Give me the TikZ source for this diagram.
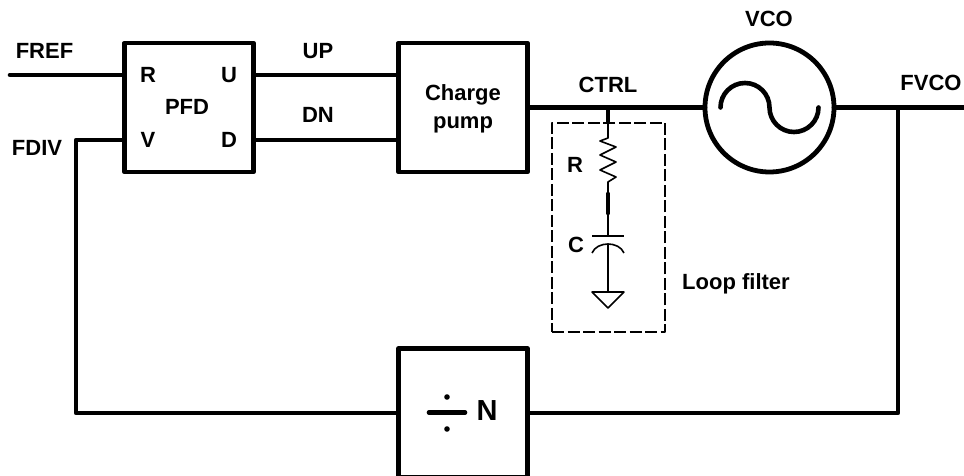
\documentclass[tikz,border=0pt]{standalone}
\usepackage{fontspec}
\setmainfont{Liberation Sans}
\usetikzlibrary{positioning}
\def\sz{129pt}
\tikzstyle{block}=[draw,rectangle,line width=4.8pt,outer sep=0pt,inner sep=0pt,minimum size=\sz]
\tikzstyle{vcostate}=[draw,circle,line width=4.8pt,outer sep=0pt,minimum size=129pt]
\tikzstyle{lab}=[inner sep=0pt,align=center,font=\fontsize{22}{28}\selectfont\bfseries]
\tikzstyle{wire}=[line width=4.6pt,line cap=round,line join=round]
\tikzstyle{thinwire}=[line width=1.6pt,line join=round]
\newcommand{\newLabel}[3]{\node[lab](#1) at (#2){#3};}
\newcommand{\newWire}[3][]{\draw[wire,#1] (#2) -- (#3);}

\begin{document}
\begin{tikzpicture}[x=1pt,y=1pt,on grid,line join=round]
    \useasboundingbox (0,0) rectangle (964,476);
    \node[block](pfd) at (189,368.5){};
    \node[block](pump)[right=274pt of pfd]{};
    \node[vcostate](vco)[right=306.5pt of pump]{};
    \node[block](divn)[below=305.5pt of pump]{};
    % loop filter
    \node[draw,rectangle,thinwire,dash pattern=on 12pt off 3.5pt,outer sep=0pt,
      minimum width=113pt,minimum height=209pt](filter) at (608.5,248.5){};
    \coordinate (fref) at (10,401);
    \coordinate (fdivc) at (76,336);
    \coordinate (fvco) at (964,368.5);
    \coordinate (fvcoc) at (898,368.5);
    \coordinate (rtop) at (608,338);
    \coordinate (rbot) at (608,282);
    \coordinate (rmid) at (608,263);
    \coordinate (ctop) at (608,240);
    \coordinate (cbot) at (608,232);
    \coordinate (gnd) at (608,184);
    % labels
    \newLabel{lfref}{44.5,425}{FREF}
    \newLabel{lfdiv}{37,328}{FDIV}
    \newLabel{lr}{148,401}{R}
    \newLabel{lu}{229,401}{U}
    \newLabel{lpfd}{187,369}{PFD}
    \newLabel{lv}{148,336.5}{V}
    \newLabel{ld}{229,336.5}{D}
    \newLabel{lup}{318,424.5}{UP}
    \newLabel{ldn}{318,361}{DN}
    \newLabel{lpump}{463,367}{Charge\\pump}
    \newLabel{lctrl}{608,391}{CTRL}
    \newLabel{lvco}{769,457}{VCO}
    \newLabel{lfvco}{931,393}{FVCO}
    \newLabel{lfilt}{736,192}{Loop filter}
    \newLabel{lres}{575,311}{R}
    \newLabel{lcap}{576,231}{C}
    \node[lab,font=\fontsize{29}{32}\selectfont\bfseries](ln) at (487,65){N};
    % wires
    \draw[wire] (fref) -- ([yshift=32.5pt]pfd.west);
    \draw[wire] (divn.west) -| (fdivc) -- ([yshift=-32.5pt]pfd.west);
    \draw[wire] ([yshift=32.5pt]pfd.east) -- ([yshift=32.5pt]pump.west);
    \draw[wire] ([yshift=-32.5pt]pfd.east) -- ([yshift=-32.5pt]pump.west);
    \newWire{pump.east}{vco.west}
    \newWire{vco.east}{fvco}
    \draw[wire] (fvcoc) |- (divn.east);
    % sine
    \draw[wire] ([xshift=-49pt]vco.center) arc[start angle=180,end angle=0,radius=24.5pt]
      arc[start angle=180,end angle=360,radius=24.5pt];
    % divide sign
    \draw[wire] (429,63.5) -- (465,63.5);
    \fill (447,79) circle (2.8pt) (447,47) circle (2.8pt);
    % R and C
    \draw[wire,line cap=butt] (608,368.5) -- (filter.north -| rtop);
    \draw[thinwire] (filter.north -| rtop) -- (rtop) -- ++(-8,-3) -- ++(16,-6) -- ++(-16,-8) -- ++(16,-7)
      -- ++(-16,-8) -- ++(16,-7) -- ++(-8,-5) -- (rbot);
    \draw[wire] (rbot) -- (rmid);
    \draw[thinwire] (rmid) -- (ctop);
    \draw[thinwire] (592,240) -- (624,240);
    \draw[thinwire] (592,223) .. controls (597,235) and (619,235) .. (624,223);
    \draw[thinwire] (cbot) -- (gnd);
    \draw[thinwire] (592,184) -- (624,184) -- (608,168) -- cycle;
\end{tikzpicture}
\end{document}
